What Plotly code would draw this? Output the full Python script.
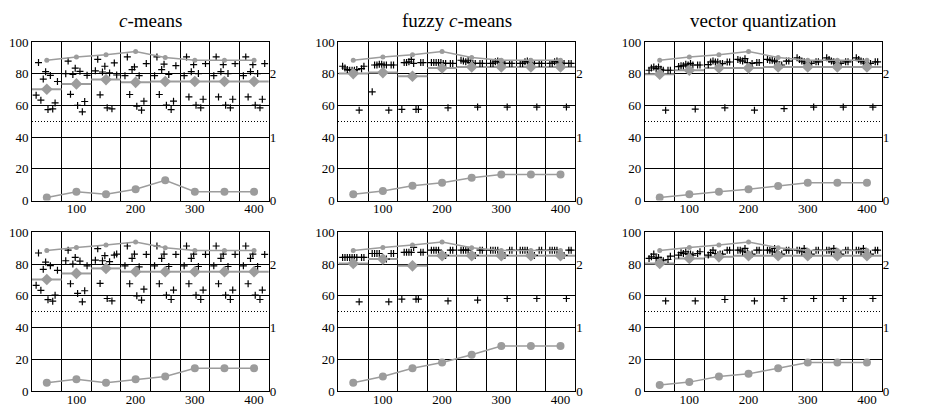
import plotly.graph_objects as go
from plotly.subplots import make_subplots

# ---------------- data ----------------
bin_centers = [50, 100, 150, 200, 250, 300, 350, 400]
trial_offsets = [-18, -14, -10, -6, -2, 2, 6, 10, 14, 18]
bin_half = 25

titles = ["<i>c</i>-means", "fuzzy <i>c</i>-means", "vector quantization"]

cm_top = [
    [66.5, 87, 63.3, 76.6, 81.3, 57.4, 78.9, 57.8, 61.6, 75.1],
    [80, 88, 67, 79.5, 83.5, 60, 81.5, 56, 62.5, 79],
    [81.8, 89.1, 66.7, 81.1, 84.7, 58.5, 80.5, 57.9, 86.8, 79.2],
    [78.8, 90.6, 66.9, 82.6, 84.3, 59.5, 78.8, 57, 62.7, 86.4],
    [78.8, 90.6, 66.9, 82.6, 86, 60.2, 79.5, 57.4, 62.7, 85.1],
    [78.8, 90.6, 65.4, 81.3, 85.7, 60.2, 80.1, 58.5, 63.9, 86.4],
    [78.8, 90.6, 65.4, 81.3, 85.7, 60.2, 80.1, 58.5, 63.9, 86.4],
    [78.8, 90.6, 65.4, 81.3, 85.7, 60.2, 80.1, 58.5, 63.9, 86.4],
]
fz_top = [
    [84.7, 83.6, 82.6, 82.2, 82.2, 82.2, 82.6, 57, 83.2, 84.7],
    [68.6, 85.5, 85.5, 86, 86, 85.5, 85.5, 57, 85.5, 85.5],
    [57.5, 87, 87, 87.5, 89, 86.5, 57.5, 57.5, 87, 87],
    [87, 87, 87, 87, 87, 86.5, 86.5, 58.5, 86.5, 86.5],
    [88.5, 88, 87.5, 88.5, 87, 86.5, 86.5, 59, 86.5, 86.5],
    [86.5, 86.5, 87.5, 88, 87.5, 86.5, 86.5, 59, 86.5, 86.5],
    [86.5, 86.5, 87.5, 88, 87.5, 86.5, 86.5, 59, 86.5, 86.5],
    [86.5, 86.5, 87.5, 88, 87.5, 86.5, 86.5, 59, 86.5, 86.5],
]
vq_top = [
    [82.2, 83.6, 84.3, 83.2, 84.3, 82.8, 82.2, 57, 82.2, 82.2],
    [84.5, 85, 85, 86, 85.5, 86.5, 85.5, 57.7, 85.5, 85.5],
    [85.7, 87.4, 88, 87.4, 87.4, 86.4, 86.4, 58.5, 87.4, 87.4],
    [89, 88.5, 88, 89.5, 87, 84.5, 86.5, 57, 87, 87],
    [89, 88.5, 88.5, 88, 87.5, 85, 85.5, 58, 88, 88],
    [90, 89, 88, 87.5, 86.5, 85.5, 86.5, 59, 87.5, 87.5],
    [90, 89, 88, 87.5, 86.5, 85.5, 86.5, 59, 87.5, 87.5],
    [90, 89, 88, 87.5, 86.5, 85.5, 86.5, 59, 87.5, 87.5],
]
cm_bot = [
    [66.6, 87, 63.5, 76.7, 81.3, 57.6, 79, 56.6, 60.4, 76.1],
    [82.1, 88.8, 67.6, 80, 84.2, 61.5, 81.9, 56.2, 63.2, 78.9],
    [82.5, 89.7, 67.8, 82.1, 85.3, 58.3, 81.5, 56.8, 85.7, 86.3],
    [78.9, 91.4, 67.6, 83.6, 86.3, 60, 78.3, 57.3, 64.2, 86.1],
    [78.9, 91.4, 67.6, 83.6, 86.3, 60.4, 78.5, 57.7, 63.6, 86.1],
    [78.9, 91.4, 67.6, 83.6, 86.3, 60.4, 78.5, 57.7, 63.6, 86.1],
    [78.9, 91.4, 67.6, 83.6, 86.3, 60.4, 78.5, 57.7, 63.6, 86.1],
    [78.9, 91.4, 67.6, 83.6, 86.3, 60.4, 78.5, 57.7, 63.6, 86.1],
]
fz_bot = [
    [84.2, 84.2, 84.2, 84.2, 84.2, 84.2, 84.2, 56.2, 84.2, 84.2],
    [86.7, 86.7, 86.7, 86.7, 83.2, 83.2, 83.2, 56.2, 86.7, 86.7],
    [57.9, 87.4, 87.4, 87.4, 87.4, 90.5, 57.9, 57.9, 87.4, 87.4],
    [88.8, 88.8, 88.8, 88.8, 85.5, 85.5, 85.5, 56.8, 88.8, 88.8],
    [88.8, 88.8, 88.8, 88.8, 85.5, 85.5, 85.5, 57.3, 88.8, 88.8],
    [88.8, 88.8, 88.8, 88.8, 85.5, 85.5, 85.5, 58.3, 88.8, 88.8],
    [88.8, 88.8, 88.8, 88.8, 85.5, 85.5, 85.5, 58.3, 88.8, 88.8],
    [88.8, 88.8, 88.8, 88.8, 85.5, 85.5, 85.5, 58.3, 88.8, 88.8],
]
vq_bot = [
    [83.6, 84.6, 86.3, 83.6, 84.2, 82.5, 82.1, 56.8, 82.9, 85],
    [85.7, 87.2, 86.7, 87.8, 86.3, 86.3, 85.7, 56.8, 86.7, 87.8],
    [85.7, 87.2, 88.8, 86.7, 85.7, 86.3, 86.3, 57.7, 88.8, 88.8],
    [88.8, 88.8, 87.8, 89.9, 87.2, 85.7, 86.3, 56.8, 88.8, 88.8],
    [88.8, 88.8, 87.8, 89.9, 87.2, 85.7, 86.3, 58.3, 88.8, 88.8],
    [88.8, 88.8, 87.8, 89.9, 87.2, 85.7, 86.3, 58.3, 88.8, 88.8],
    [88.8, 88.8, 87.8, 89.9, 87.2, 85.7, 86.3, 58.3, 88.8, 88.8],
    [88.8, 88.8, 87.8, 89.9, 87.2, 85.7, 86.3, 58.3, 88.8, 88.8],
]

# mean level per bin (gray diamonds and step)
cm_top_mean = [70.2, 73.6, 76.3, 74.6, 75.1, 75.1, 75.1, 75.1]
fz_top_mean = [80.1, 80.7, 78.4, 83.6, 84.3, 84.3, 84.3, 84.3]
vq_top_mean = [79.7, 82.2, 83.6, 83.6, 84.3, 84.3, 84.3, 84.3]
cm_bot_mean = [70.3, 74.1, 77.3, 75.2, 75.2, 75.2, 75.2, 75.2]
fz_bot_mean = [80.4, 83.2, 78.9, 85.3, 85.3, 85.3, 85.3, 85.3]
vq_bot_mean = [80.4, 83.6, 84.6, 85.3, 85.3, 85.3, 85.3, 85.3]

# upper gray line (left axis)
upper_line = [88.5, 90.5, 92, 94, 90.3, 88.5, 88.5, 88.5]

# lower gray line (right axis, 0..2.5)
cm_top_low = [0.05, 0.14, 0.10, 0.18, 0.32, 0.14, 0.14, 0.14]
fz_top_low = [0.10, 0.15, 0.235, 0.28, 0.36, 0.41, 0.41, 0.41]
vq_top_low = [0.05, 0.10, 0.14, 0.18, 0.23, 0.28, 0.28, 0.28]
cm_bot_low = [0.13, 0.185, 0.13, 0.185, 0.23, 0.36, 0.36, 0.36]
fz_bot_low = [0.13, 0.23, 0.36, 0.45, 0.57, 0.71, 0.71, 0.71]
vq_bot_low = [0.095, 0.14, 0.23, 0.27, 0.36, 0.45, 0.45, 0.45]

left_ticks = [0, 20, 40, 60, 80, 100]
right_ticks = [0, 1, 2]
x_ticks = [100, 200, 300, 400]

panels = [
    (1, 1, cm_top, cm_top_mean, cm_top_low),
    (1, 2, fz_top, fz_top_mean, fz_top_low),
    (1, 3, vq_top, vq_top_mean, vq_top_low),
    (2, 1, cm_bot, cm_bot_mean, cm_bot_low),
    (2, 2, fz_bot, fz_bot_mean, fz_bot_low),
    (2, 3, vq_bot, vq_bot_mean, vq_bot_low),
]

# ---------------- figure ----------------
GRAY = "#9c9c9c"
FONT = "Liberation Serif, Times New Roman, serif"

fig = make_subplots(
    rows=2, cols=3,
    specs=[[{"secondary_y": True}] * 3 for _ in range(2)],
    horizontal_spacing=0.077, vertical_spacing=0.091,
)

for row, col, pts, means, low in panels:
    px, py = [], []
    for c, vals in zip(bin_centers, pts):
        for o, v in zip(trial_offsets, vals):
            px.append(c + o)
            py.append(v)
    sx, sy = [], []
    for c, m in zip(bin_centers, means):
        sx += [c - bin_half, c + bin_half, None]
        sy += [m, m, None]

    fig.add_trace(go.Scatter(x=sx, y=sy, mode="lines",
                             line=dict(color=GRAY, width=2),
                             showlegend=False, hoverinfo="skip"),
                  row=row, col=col, secondary_y=False)
    fig.add_trace(go.Scatter(x=px, y=py, mode="markers",
                             marker=dict(symbol="cross-thin", size=5,
                                         line=dict(color="black", width=1.2)),
                             showlegend=False),
                  row=row, col=col, secondary_y=False)
    fig.add_trace(go.Scatter(x=bin_centers, y=means, mode="markers",
                             marker=dict(symbol="diamond", size=9, color=GRAY),
                             showlegend=False),
                  row=row, col=col, secondary_y=False)
    fig.add_trace(go.Scatter(x=bin_centers, y=upper_line, mode="lines+markers",
                             line=dict(color=GRAY, width=1.5),
                             marker=dict(symbol="circle", size=5, color=GRAY),
                             showlegend=False),
                  row=row, col=col, secondary_y=False)
    fig.add_trace(go.Scatter(x=bin_centers, y=low, mode="lines+markers",
                             line=dict(color=GRAY, width=1.5),
                             marker=dict(symbol="circle", size=8, color=GRAY),
                             showlegend=False),
                  row=row, col=col, secondary_y=True)

minor_x = [c + bin_half for c in bin_centers[:-1]]
tickfont = dict(family=FONT, size=13, color="black")

fig.update_xaxes(range=[bin_centers[0] - bin_half, bin_centers[-1] + bin_half],
                 tickvals=x_ticks, showgrid=False, zeroline=False, color="black",
                 showline=True, linecolor="black", linewidth=1, mirror=True,
                 ticks="", tickfont=tickfont, automargin=False,
                 ticklabelstandoff=-4,
                 minor=dict(tickvals=minor_x, showgrid=True, gridcolor="black",
                            gridwidth=1, ticks=""))
fig.update_yaxes(range=[0, 100], tickvals=left_ticks, showgrid=True, color="black",
                 gridcolor="black", gridwidth=1, zeroline=False,
                 showline=True, linecolor="black", linewidth=1, mirror=True,
                 ticks="", tickfont=tickfont, automargin=False,
                 minor=dict(tickvals=[50], showgrid=True, gridcolor="black",
                            griddash="1px,2px", gridwidth=1, ticks=""),
                 secondary_y=False)
fig.update_yaxes(range=[0, 2.5], tickvals=right_ticks, showgrid=False, color="black",
                 zeroline=False, showline=False, ticks="", tickfont=tickfont,
                 automargin=False, secondary_y=True)

# column titles
for i, t in enumerate(titles):
    xa = fig.layout["xaxis" if i == 0 else f"xaxis{i + 1}"]
    d = xa.domain
    fig.add_annotation(text=t, x=(d[0] + d[1]) / 2, y=1, xref="paper", yref="paper",
                       xanchor="center", yanchor="bottom", yshift=9, showarrow=False,
                       font=dict(family=FONT, size=19, color="black"))

fig.update_layout(
    width=945, height=406, template="none",
    margin=dict(l=32, r=9, t=42, b=15),
    paper_bgcolor="white", plot_bgcolor="white",
    font=dict(family=FONT, color="black"),
    showlegend=False,
)

fig.write_html("out.html",
               config={"displayModeBar": False},
               post_script="document.body.style.margin='0px';"
                           "document.body.style.overflow='hidden';")
